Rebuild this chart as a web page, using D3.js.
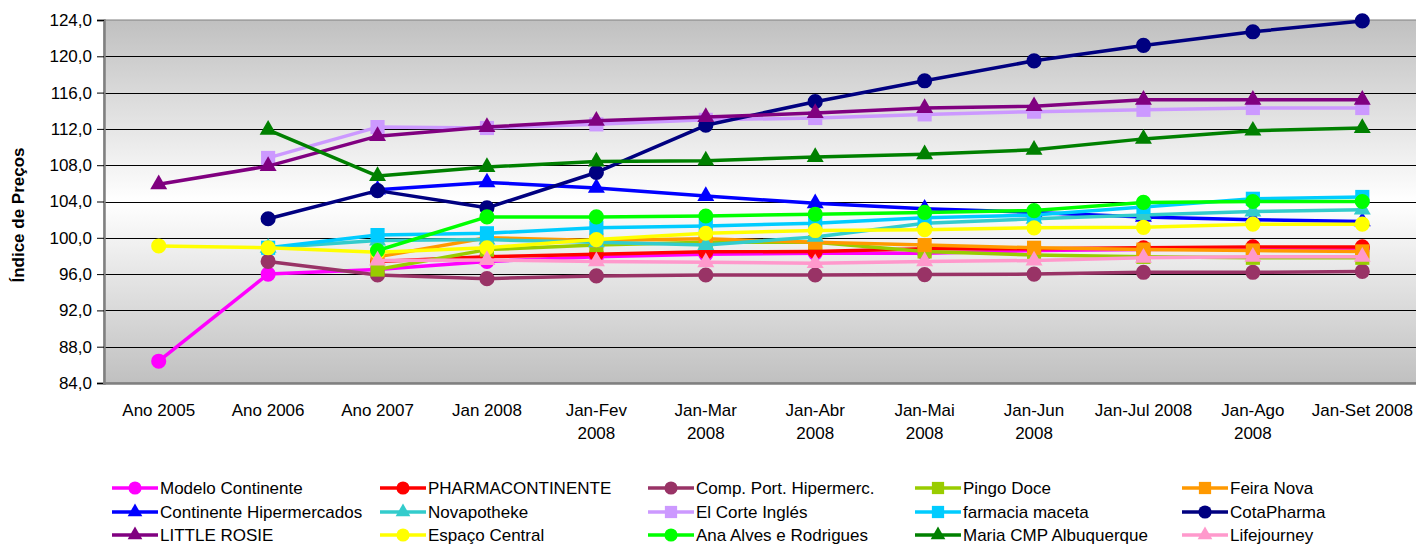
<!DOCTYPE html>
<html>
<head>
<meta charset="utf-8">
<script src="https://cdn.jsdelivr.net/npm/d3@7"></script>
<style>
  body { margin: 0; background: #fff; }
  svg text { font-family: "Liberation Sans", Arial, sans-serif; fill: #000; }
</style>
</head>
<body>
<svg id="chart"></svg>
<script>
// Categories (tick labels, "\n" marks the wrap)
const categories = ["Ano 2005", "Ano 2006", "Ano 2007", "Jan 2008", "Jan-Fev\n2008", "Jan-Mar\n2008",
  "Jan-Abr\n2008", "Jan-Mai\n2008", "Jan-Jun\n2008", "Jan-Jul 2008", "Jan-Ago\n2008", "Jan-Set 2008"];
const yTicks = [84, 88, 92, 96, 100, 104, 108, 112, 116, 120, 124];

const seriesNames = ["Modelo Continente", "PHARMACONTINENTE", "Comp. Port. Hipermerc.", "Pingo Doce", "Feira Nova",
  "Continente Hipermercados", "Novapotheke", "El Corte Inglés", "farmacia maceta", "CotaPharma",
  "LITTLE ROSIE", "Espaço Central", "Ana Alves e Rodrigues", "Maria CMP Albuquerque", "Lifejourney"];
const seriesColors = ["#FF00FF", "#FF0000", "#993366", "#99CC00", "#FF9900",
  "#0000FF", "#33CCCC", "#CC99FF", "#00CCFF", "#000080",
  "#800080", "#FFFF00", "#00FF00", "#008000", "#FF99CC"];
const seriesMarkers = ["circle", "circle", "circle", "square", "square",
  "triangle", "triangle", "square", "square", "circle",
  "triangle", "circle", "circle", "triangle", "triangle"];

// values per series (null = no data)
const modeloContinente = [86.4, 96.0, 96.5, 97.4, 97.9, 98.2, 98.3, 98.3, 98.6, 98.7, 98.8, 98.8];
const pharmaContinente = [null, null, 97.4, 97.9, 98.2, 98.45, 98.5, 98.8, 98.8, 98.9, 99.0, 99.0];
const compPortHiper = [null, 97.4, 95.9, 95.5, 95.8, 95.9, 95.9, 95.95, 96.0, 96.2, 96.2, 96.3];
const pingoDoce = [null, null, 96.5, 98.7, 99.2, 99.5, 99.5, 98.5, 98.1, 97.9, 97.8, 97.8];
const feiraNova = [null, null, 97.9, 100.0, 99.7, 99.9, 99.5, 99.2, 98.9, 98.7, 98.6, 98.5];
const continenteHiper = [null, null, 105.3, 106.1, 105.5, 104.6, 103.8, 103.2, 102.8, 102.3, 102.0, 101.8];
const novapotheke = [null, 98.9, 99.7, 99.8, 99.5, 99.2, 100.1, 101.6, 102.1, 102.5, 102.9, 103.1];
const elCorteIngles = [null, 108.8, 112.2, 112.1, 112.5, 113.0, 113.2, 113.6, 113.9, 114.1, 114.3, 114.3];
const farmaciaMaceta = [null, 98.9, 100.3, 100.5, 101.1, 101.3, 101.6, 102.2, 102.5, 103.4, 104.3, 104.5];
const cotaPharma = [null, 102.1, 105.2, 103.3, 107.2, 112.4, 115.0, 117.3, 119.5, 121.2, 122.7, 123.9];
const littleRosie = [105.9, 107.9, 111.2, 112.2, 112.9, 113.3, 113.75, 114.3, 114.5, 115.2, 115.2, 115.2];
const espacoCentral = [99.1, 98.9, 98.4, 98.9, 99.8, 100.5, 100.8, 100.9, 101.1, 101.15, 101.5, 101.5];
const anaAlves = [null, null, 98.6, 102.3, 102.3, 102.4, 102.6, 102.8, 103.0, 103.9, 104.0, 104.0];
const mariaCMP = [null, 111.9, 106.8, 107.8, 108.4, 108.5, 108.9, 109.2, 109.7, 110.9, 111.8, 112.1];
const lifejourney = [null, null, 97.5, 97.55, 97.4, 97.3, 97.2, 97.4, 97.5, 97.8, 97.9, 97.9];

const seriesValues = [modeloContinente, pharmaContinente, compPortHiper, pingoDoce, feiraNova,
  continenteHiper, novapotheke, elCorteIngles, farmaciaMaceta, cotaPharma,
  littleRosie, espacoCentral, anaAlves, mariaCMP, lifejourney];

const width = 1416, height = 544;
const plot = { left: 104, right: 1417, top: 20, bottom: 383 };

const svg = d3.select("#chart").attr("width", width).attr("height", height);

const x = d3.scalePoint().domain(categories).range([plot.left, plot.right]).padding(0.5);
const y = d3.scaleLinear().domain([84, 124]).range([plot.bottom, plot.top]);

// background gradient
const grad = svg.append("defs").append("linearGradient")
  .attr("id", "bg").attr("x1", 0).attr("y1", 0).attr("x2", 0).attr("y2", 1);
grad.append("stop").attr("offset", "0%").attr("stop-color", "#c0c0c0");
grad.append("stop").attr("offset", "50%").attr("stop-color", "#ffffff");
grad.append("stop").attr("offset", "100%").attr("stop-color", "#c0c0c0");

svg.append("rect")
  .attr("x", plot.left).attr("y", plot.top)
  .attr("width", plot.right - plot.left).attr("height", plot.bottom - plot.top)
  .attr("fill", "url(#bg)").attr("stroke", "#808080").attr("stroke-width", 1);

// gridlines
svg.append("g")
  .selectAll("line")
  .data(yTicks.filter((d) => d > 84 && d < 124))
  .enter()
  .append("line")
  .attr("x1", plot.left).attr("x2", plot.right)
  .attr("y1", (d) => Math.round(y(d)) + 0.5).attr("y2", (d) => Math.round(y(d)) + 0.5)
  .attr("stroke", "#000").attr("stroke-width", 1);

// y axis
const yAxis = svg.append("g")
  .attr("transform", `translate(${plot.left},0)`)
  .call(d3.axisLeft(y).tickValues(yTicks).tickSize(7).tickPadding(5)
    .tickFormat((d) => d3.format(".1f")(d).replace(".", ",")));
yAxis.select(".domain").attr("stroke", "#808080").attr("stroke-width", 2.5);
yAxis.selectAll(".tick line").attr("stroke", "#000");
yAxis.selectAll("text").style("font-size", "17px");

// bottom axis line
svg.append("line")
  .attr("x1", plot.left - 1).attr("x2", plot.right)
  .attr("y1", plot.bottom + 0.5).attr("y2", plot.bottom + 0.5)
  .attr("stroke", "#808080").attr("stroke-width", 2.5);

// x labels
const xLabels = svg.append("g")
  .selectAll("text")
  .data(categories)
  .enter()
  .append("text")
  .attr("x", (d) => x(d))
  .attr("y", 416)
  .attr("text-anchor", "middle")
  .style("font-size", "17px");
xLabels.each(function (d) {
  d.split("\n").forEach((line, i) => {
    d3.select(this).append("tspan")
      .attr("x", x(d)).attr("dy", i === 0 ? 0 : 23).text(line);
  });
});

// y title
svg.append("text")
  .attr("transform", "translate(24,215) rotate(-90)")
  .attr("text-anchor", "middle")
  .style("font-size", "17px")
  .style("font-weight", "bold")
  .text("Índice de Preços");

const symbolType = { circle: d3.symbolCircle, square: d3.symbolSquare, triangle: d3.symbolTriangle };
const symbolSize = { circle: 180, square: 200, triangle: 125 };

const line = d3.line()
  .defined((d) => d.v !== null)
  .x((d) => x(d.c))
  .y((d) => y(d.v));

// series: line then markers, in order
seriesValues.forEach((vals, i) => {
  const pts = vals.map((v, j) => ({ c: categories[j], v: v }));
  const g = svg.append("g");
  g.append("path")
    .datum(pts)
    .attr("d", line)
    .attr("fill", "none")
    .attr("stroke", seriesColors[i])
    .attr("stroke-width", 3.5)
    .attr("stroke-linejoin", "round");
  g.selectAll("path.m")
    .data(pts.filter((d) => d.v !== null))
    .enter()
    .append("path")
    .attr("class", "m")
    .attr("transform", (d) => `translate(${x(d.c)},${y(d.v)})`)
    .attr("d", d3.symbol().type(symbolType[seriesMarkers[i]]).size(symbolSize[seriesMarkers[i]]))
    .attr("fill", seriesColors[i]);
});

// legend
const legendCols = [112, 380, 648, 915, 1182];
const legendRows = [488, 512, 535];
const legend = svg.append("g")
  .selectAll("g")
  .data(seriesNames)
  .enter()
  .append("g")
  .attr("transform", (d, i) => `translate(${legendCols[i % 5]},${legendRows[Math.floor(i / 5)]})`);
legend.append("line")
  .attr("x1", 0).attr("x2", 46)
  .attr("stroke", (d, i) => seriesColors[i])
  .attr("stroke-width", 3.5);
legend.append("path")
  .attr("transform", "translate(23,0)")
  .attr("d", (d, i) => d3.symbol().type(symbolType[seriesMarkers[i]]).size(symbolSize[seriesMarkers[i]] * 0.75)())
  .attr("fill", (d, i) => seriesColors[i]);
legend.append("text")
  .attr("x", 48)
  .attr("y", 6)
  .style("font-size", "17px")
  .text((d) => d);
</script>
</body>
</html>
